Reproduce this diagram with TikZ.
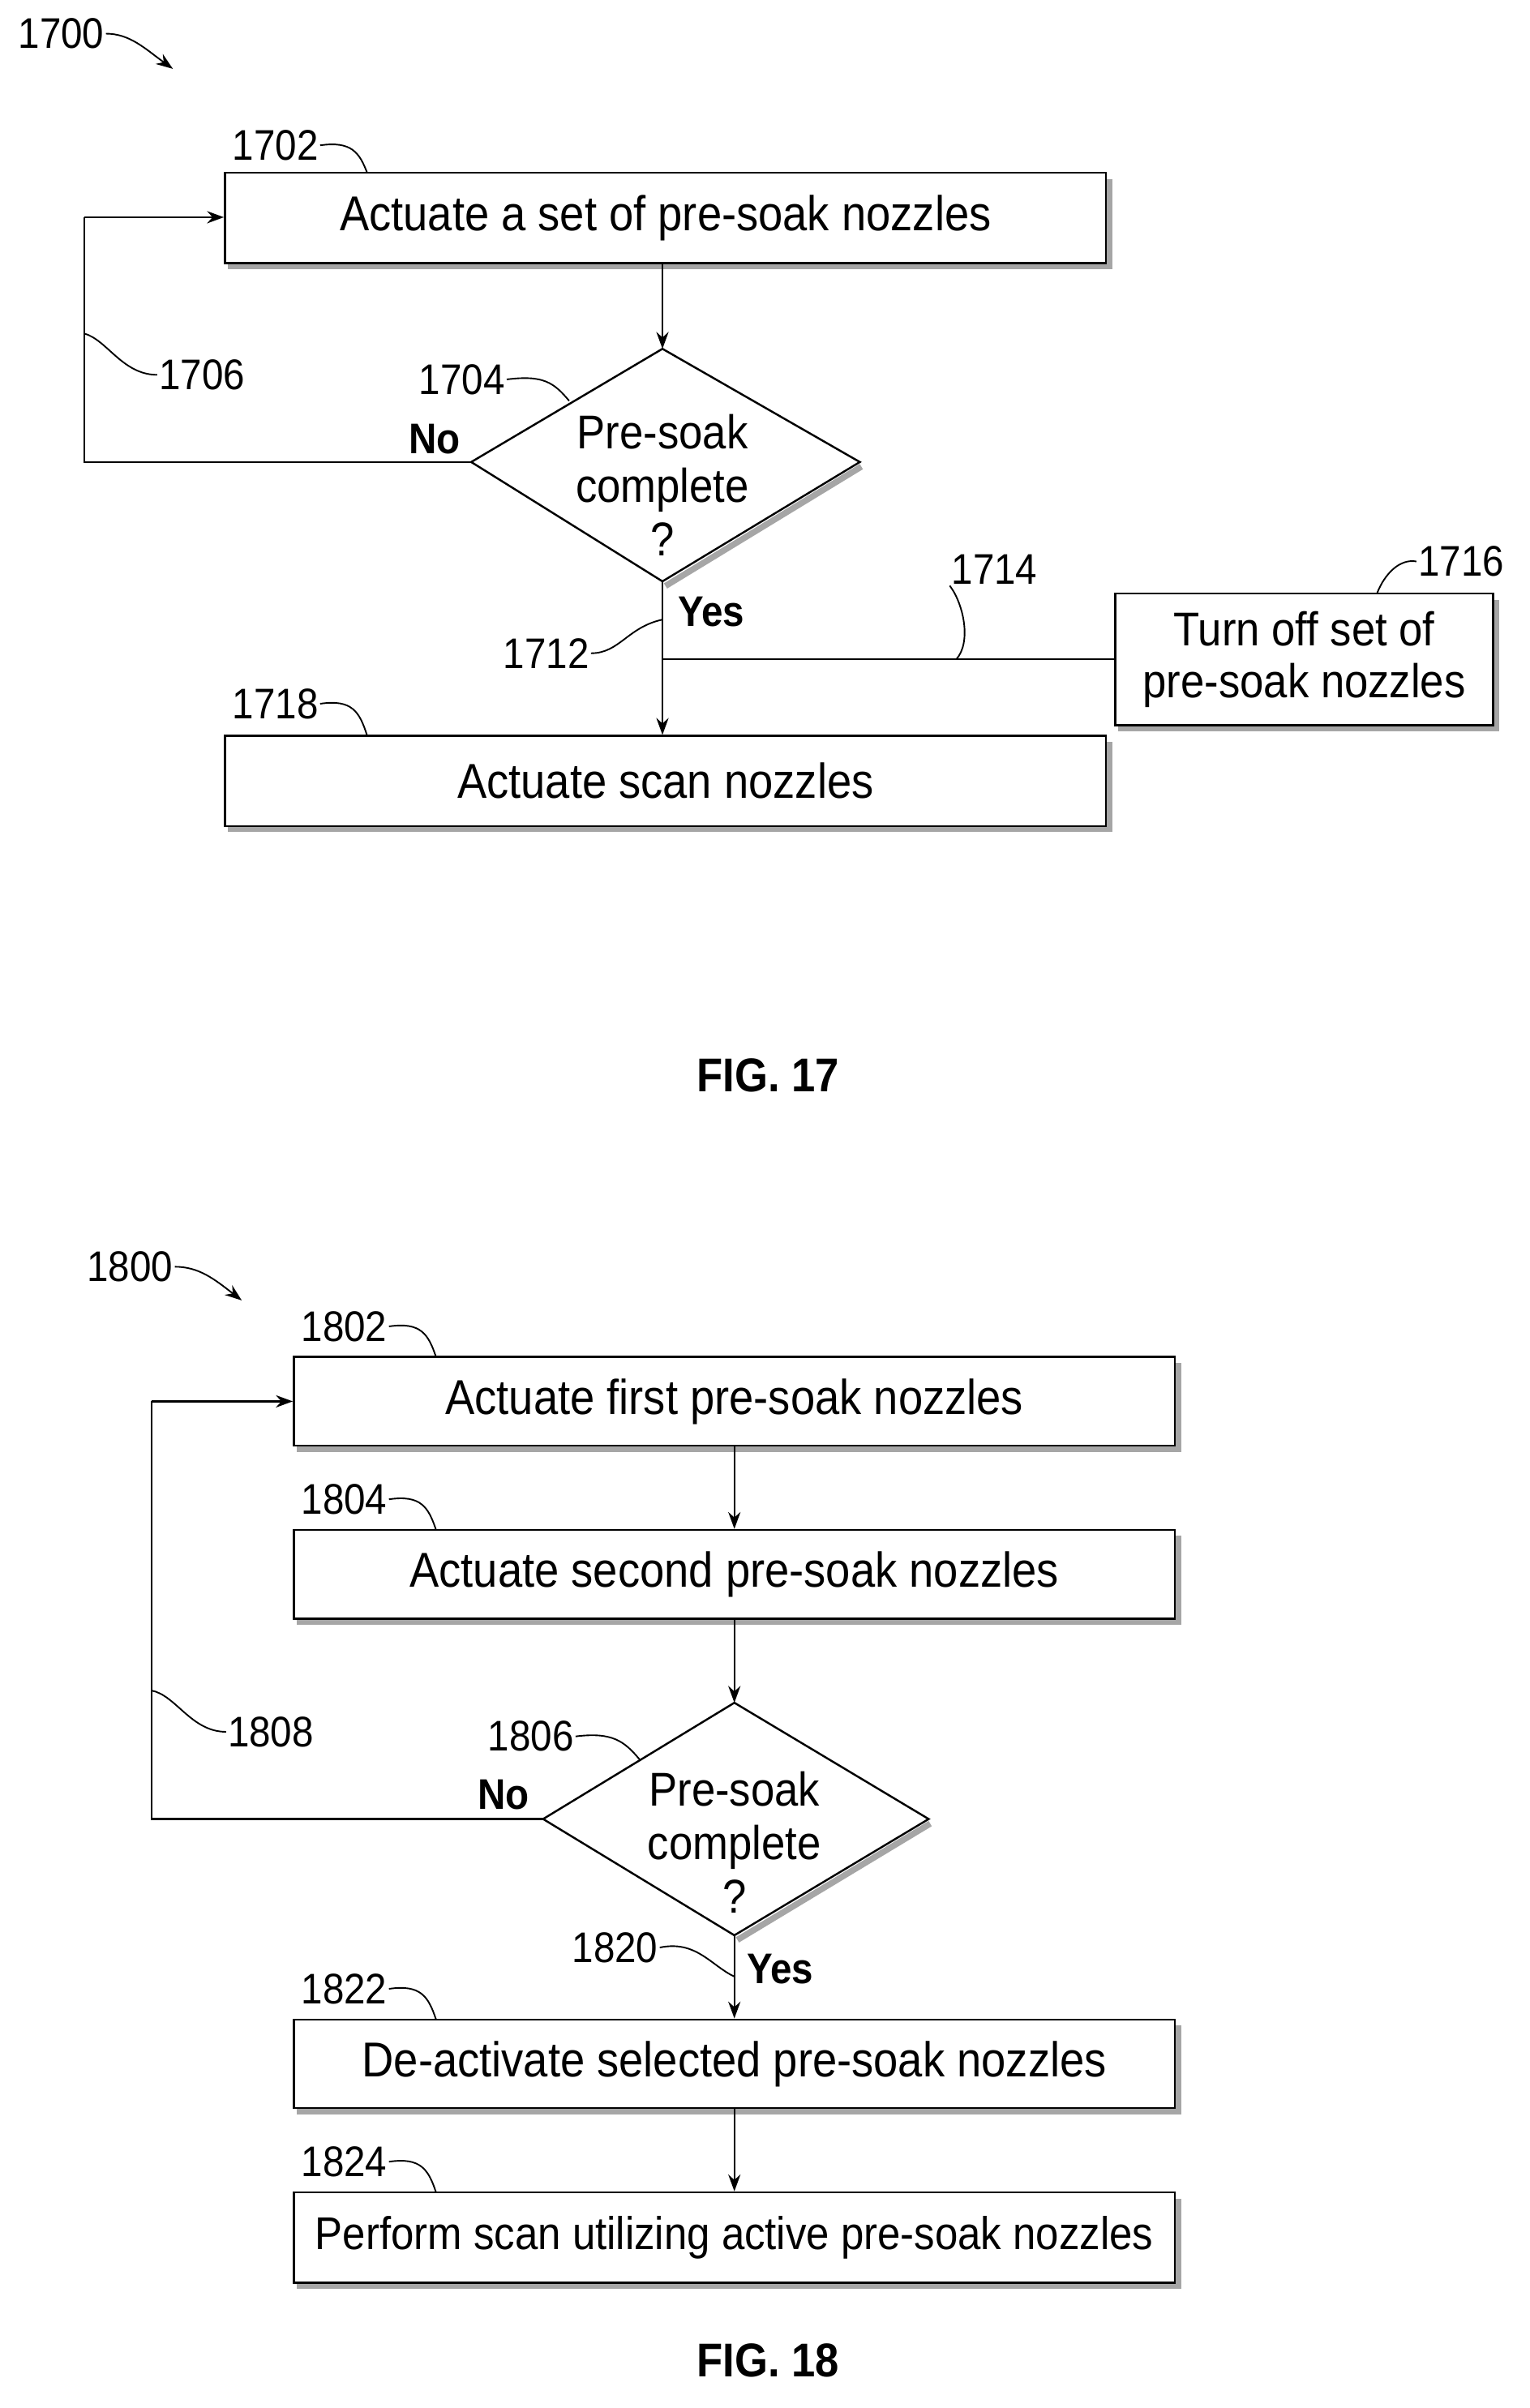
\documentclass[tikz,border=0pt]{standalone}
\usepackage{fontspec}
\setmainfont[FakeStretch=0.9]{Liberation Sans}
\usetikzlibrary{arrows.meta}
\begin{document}
\begin{tikzpicture}[x=1pt,y=-1pt,
  txt/.style={font=\fontsize{32}{35}\selectfont},
  lab/.style={font=\fontsize{28}{30}\selectfont,inner sep=1pt},
  bold/.style={font=\fontsize{28}{30}\selectfont\bfseries,inner sep=1pt},
  box/.style={draw,line width=1.3pt,rectangle,inner sep=0pt,txt,align=center},
  dtxt/.style={align=center,font=\fontsize{31}{35}\selectfont,inner sep=0pt},
  ln/.style={line width=1.2pt},
  arr/.style={line width=1.2pt,-{Stealth[length=11pt,width=8pt]}},
  ld/.style={line width=1pt},
  shd/.style={line width=4pt,gray!70}]
\useasboundingbox (0,0) rectangle (1000,1574);
\newcommand{\mybox}[5]{%
  \draw[shd] (#2+2,#5+2) -- (#3+2,#5+2) -- (#3+2,#4+4);
  \node[box,minimum width=#3-#2,minimum height=#5-#4] (#1) at ({(#2+#3)/2},{(#4+#5)/2}) {};}
% FIG 17
\node[lab] (l1700) at (40,22) {1700};
\coordinate (c1700) at (113,45);
\draw[arr,line width=1pt] (l1700.east) .. controls (85,22) and (95,32) .. (c1700);
\mybox{b1702}{147}{723}{113}{172}
\node[txt] at (b1702) {Actuate a set of pre-soak nozzles};
\node[lab] (l1702) at (180,95) {1702};
\draw[ld] (l1702.east) .. controls (230,92) and (235,100) .. (240,113);
\coordinate (dT) at (433,228); \coordinate (dL) at (308,302);
\coordinate (dR) at (562,302); \coordinate (dB) at (433,380);
\draw[shd] (563,305) -- (435,383);
\draw[line width=1.3pt] (dT) -- (dR) -- (dB) -- (dL) -- cycle;
\node[dtxt] (d1704) at (433,317) {Pre-soak\\complete\\?};
\draw[arr] (b1702.south -| dT) -- (dT);
\node[bold] (no1) at (284,287) {No};
\coordinate (k1) at (55,302); \coordinate (k2) at (55,142);
\draw[ln] (dL) -- (k1) -- (k2);
\draw[arr] (k2) -- (b1702.west |- k2);
\node[lab] (l1706) at (132,245) {1706};
\draw[ld] (l1706.west) .. controls (80,245) and (70,222) .. (55,218);
\node[lab] (l1704) at (302,248) {1704};
\draw[ld] (l1704.east) .. controls (355,245) and (362,250) .. (372,262);
\mybox{b1718}{147}{723}{481}{540}
\node[txt] at (b1718) {Actuate scan nozzles};
\node[lab] (l1718) at (180,460) {1718};
\draw[ld] (l1718.east) .. controls (230,457) and (235,465) .. (240,481);
\draw[arr] (dB) -- (b1718.north -| dB);
\node[bold] (yes1) at (465,400) {Yes};
\node[lab] (l1712) at (357,427) {1712};
\draw[ld] (l1712.east) .. controls (405,427) and (410,410) .. (433,405);
\mybox{b1716}{729}{976}{388}{474}
\node[txt,align=center,font=\fontsize{31}{34}\selectfont] at (b1716) {Turn off set of\\pre-soak nozzles};
\coordinate (j1) at (433,431);
\draw[ln] (j1) -- (b1716.west |- j1);
\node[lab] (l1714) at (650,372) {1714};
\draw[ld] (l1714.south west) .. controls (630,395) and (635,420) .. (625,431);
\node[lab] (l1716) at (955,367) {1716};
\draw[ld] (l1716.west) .. controls (915,365) and (905,375) .. (900,388);
\node[font=\fontsize{31}{32}\selectfont\bfseries] (f17) at (502,703) {FIG. 17};
% FIG 18
\node[lab] (l1800) at (85,828) {1800};
\coordinate (c1800) at (158,850);
\draw[arr,line width=1pt] (l1800.east) .. controls (130,828) and (140,836) .. (c1800);
\mybox{b1802}{192}{768}{887}{945}
\node[txt] at (b1802) {Actuate first pre-soak nozzles};
\node[lab] (l1802) at (225,867) {1802};
\draw[ld] (l1802.east) .. controls (275,864) and (280,872) .. (285,887);
\mybox{b1804}{192}{768}{1000}{1058}
\node[txt] at (b1804) {Actuate second pre-soak nozzles};
\node[lab] (l1804) at (225,980) {1804};
\draw[ld] (l1804.east) .. controls (275,977) and (280,985) .. (285,1000);
\draw[arr] (b1802.south -| 480,0) -- (b1804.north -| 480,0);
\coordinate (eT) at (480,1113); \coordinate (eL) at (355,1189);
\coordinate (eR) at (607,1189); \coordinate (eB) at (480,1265);
\draw[shd] (608,1192) -- (482,1268);
\draw[line width=1.3pt] (eT) -- (eR) -- (eB) -- (eL) -- cycle;
\node[dtxt] (d1806) at (480,1204) {Pre-soak\\complete\\?};
\draw[arr] (b1804.south -| eT) -- (eT);
\node[bold] (no2) at (329,1173) {No};
\coordinate (k3) at (99,1189); \coordinate (k4) at (99,916);
\draw[ln] (eL) -- (k3) -- (k4);
\draw[arr] (k4) -- (b1802.west |- k4);
\node[lab] (l1808) at (177,1132) {1808};
\draw[ld] (l1808.west) .. controls (125,1132) and (115,1108) .. (99,1105);
\node[lab] (l1806) at (347,1135) {1806};
\draw[ld] (l1806.east) .. controls (400,1132) and (408,1138) .. (418,1150);
\mybox{b1822}{192}{768}{1320}{1378}
\node[txt] at (b1822) {De-activate selected pre-soak nozzles};
\node[lab] (l1822) at (225,1300) {1822};
\draw[ld] (l1822.east) .. controls (275,1297) and (280,1305) .. (285,1320);
\draw[arr] (eB) -- (b1822.north -| eB);
\node[bold] (yes2) at (510,1287) {Yes};
\node[lab] (l1820) at (402,1273) {1820};
\draw[ld] (l1820.east) .. controls (455,1268) and (465,1285) .. (480,1292);
\mybox{b1824}{192}{768}{1433}{1492}
\node[txt,font=\fontsize{30}{33}\selectfont] at (b1824) {Perform scan utilizing active pre-soak nozzles};
\node[lab] (l1824) at (225,1413) {1824};
\draw[ld] (l1824.east) .. controls (275,1410) and (280,1418) .. (285,1433);
\draw[arr] (b1822.south -| 480,0) -- (b1824.north -| 480,0);
\node[font=\fontsize{31}{32}\selectfont\bfseries] (f18) at (502,1543) {FIG. 18};
\end{tikzpicture}
\end{document}
